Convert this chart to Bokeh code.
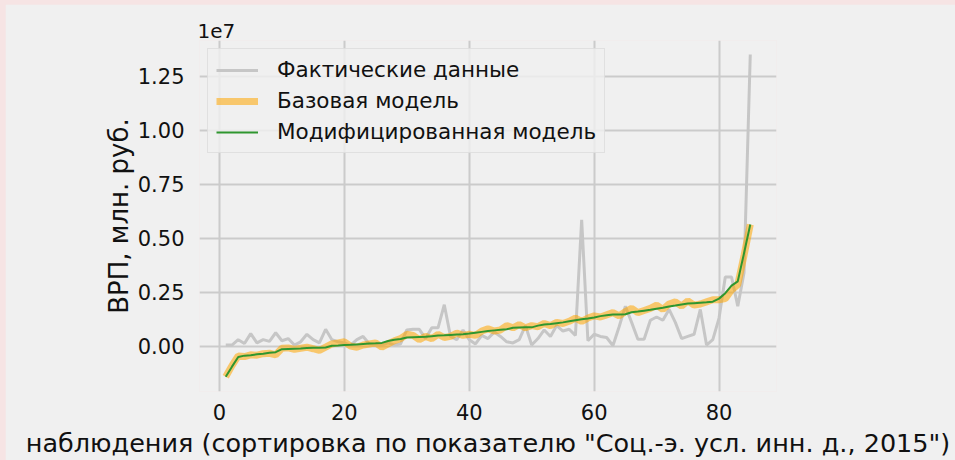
from bokeh.plotting import figure
from bokeh.models import (Range1d, FixedTicker, Legend, LegendItem,
                          ColumnDataSource, GlobalInlineStyleSheet)
from bokeh.embed import file_html
from bokeh.resources import INLINE

# ---- data (values in roubles, in millions below) ----
obs = list(range(1, 86))

actual_mln = [0.05, 0.05, 0.30, 0.12, 0.58, 0.15, 0.30, 0.22, 0.62, 0.25,
              0.35, 0.05, 0.20, 0.55, 0.30, 0.15, 0.78, 0.30, 0.20, 0.15,
              0.05, 0.30, 0.45, 0.10, 0.05, 0.05, 0.15, 0.05, 0.10, 0.75,
              0.78, 0.78, 0.35, 0.85, 0.85, 1.92, 0.45, 0.30, 0.75, 0.30,
              0.10, 0.50, 0.35, 0.65, 0.45, 0.20, 0.15, 0.30, 0.95, 0.05,
              0.35, 0.75, 0.45, 0.95, 0.70, 0.78, 0.50, 5.85, 0.25, 0.55,
              0.45, 0.40, 0.02, 0.90, 1.85, 1.10, 0.32, 0.32, 1.20, 1.35,
              1.20, 1.70, 1.10, 0.35, 0.45, 0.55, 1.70, 0.05, 0.30, 1.30,
              3.20, 3.20, 1.85, 3.40, 13.50]

base_mln = [-1.42, -0.90, -0.45, -0.48, -0.40, -0.42, -0.35, -0.33, -0.40, -0.10,
            -0.08, -0.15, -0.10, -0.05, -0.12, -0.20, -0.05, 0.10, 0.15, 0.20,
            0.00, -0.05, 0.05, 0.10, 0.15, -0.05, 0.10, 0.25, 0.35, 0.55,
            0.50, 0.30, 0.45, 0.35, 0.55, 0.40, 0.45, 0.60, 0.50, 0.55,
            0.50, 0.70, 0.80, 0.70, 0.75, 0.95, 0.85, 1.00, 0.85, 0.95,
            0.90, 1.05, 0.95, 1.10, 1.05, 1.15, 1.30, 1.15, 1.30, 1.40,
            1.35, 1.45, 1.55, 1.40, 1.60, 1.75, 1.55, 1.65, 1.75, 1.90,
            1.70, 1.95, 2.05, 1.85, 2.10, 1.90, 1.95, 2.05, 2.15, 2.15,
            2.20, 2.60, 2.85, 4.20, 5.63]

modified_mln = [-1.42, -0.95, -0.50, -0.44, -0.42, -0.38, -0.35, -0.31, -0.28, -0.14,
                -0.13, -0.12, -0.11, -0.09, -0.08, -0.07, -0.06, 0.02, 0.03, 0.05,
                0.06, 0.08, 0.10, 0.12, 0.13, 0.15, 0.24, 0.30, 0.33, 0.40,
                0.41, 0.42, 0.43, 0.46, 0.49, 0.50, 0.52, 0.54, 0.55, 0.58,
                0.62, 0.66, 0.70, 0.73, 0.76, 0.78, 0.85, 0.86, 0.87, 0.87,
                0.95, 1.00, 1.02, 1.06, 1.10, 1.15, 1.20, 1.24, 1.28, 1.33,
                1.39, 1.43, 1.46, 1.47, 1.48, 1.57, 1.60, 1.64, 1.68, 1.73,
                1.78, 1.84, 1.88, 1.93, 1.97, 1.99, 2.01, 2.03, 2.06, 2.20,
                2.45, 2.80, 3.00, 4.30, 5.63]

y_ticks = [0, 2.5e6, 5e6, 7.5e6, 1e7, 1.25e7]
y_tick_labels = ["0.00", "0.25", "0.50", "0.75", "1.00", "1.25"]
x_ticks = [0, 20, 40, 60, 80]

series_names = ["Фактические данные", "Базовая модель", "Модифицированная модель"]
x_title = 'наблюдения (сортировка по показателю "Соц.-э. усл. инн. д., 2015")'
y_title = "ВРП, млн. руб."
offset_text = "1e7"

src = ColumnDataSource(dict(
    x=obs,
    actual=[v * 1e6 for v in actual_mln],
    base=[v * 1e6 for v in base_mln],
    modified=[v * 1e6 for v in modified_mln],
))

BG = "#f0f0f0"
FONT = "DejaVu Sans"
TXT = "#111111"

p = figure(width=950, height=456, output_backend="svg", toolbar_location=None,
           x_range=Range1d(-3.2, 89.2), y_range=Range1d(-2.1e6, 14.15e6),
           min_border_left=194, min_border_right=179,
           min_border_top=36, min_border_bottom=65,
           background_fill_color=BG, border_fill_color=BG)
p.outline_line_color = None

# "1e7" offset text, drawn as the title at the top-left of the frame
p.title.text = offset_text
p.title.align = "left"
p.title.offset = -2
p.title.standoff = 5
p.title.text_font = FONT
p.title.text_font_size = "20px"
p.title.text_font_style = "normal"
p.title.text_color = TXT

r1 = p.line("x", "actual", source=src, line_color="#c6c6c6", line_width=3)
r2 = p.line("x", "base", source=src, line_color="#ffa500", line_alpha=0.55, line_width=7)
r3 = p.line("x", "modified", source=src, line_color="#2f962f", line_width=2)

# axes
p.xaxis.ticker = FixedTicker(ticks=x_ticks)
p.yaxis.ticker = FixedTicker(ticks=y_ticks)
p.yaxis.major_label_overrides = {t: l for t, l in zip(y_ticks, y_tick_labels)}
for ax in (p.xaxis[0], p.yaxis[0]):
    ax.axis_line_color = None
    ax.major_tick_line_color = None
    ax.minor_tick_line_color = None
    ax.major_label_text_font = FONT
    ax.major_label_text_font_size = "21px"
    ax.major_label_text_color = TXT
    ax.axis_label_text_font = FONT
    ax.axis_label_text_font_style = "normal"
    ax.axis_label_text_color = TXT
p.xaxis.axis_label = x_title
p.yaxis.axis_label = y_title
p.xaxis.axis_label_text_font_size = "25.5px"
p.yaxis.axis_label_text_font_size = "26px"
p.xaxis.major_label_standoff = 6
p.yaxis.major_label_standoff = 9
p.xaxis.axis_label_standoff = 5
p.yaxis.axis_label_standoff = 1

p.xgrid.grid_line_color = "#cbcbcb"
p.ygrid.grid_line_color = "#cbcbcb"
p.xgrid.grid_line_width = 2
p.ygrid.grid_line_width = 2

legend = Legend(items=[LegendItem(label=series_names[0], renderers=[r1]),
                       LegendItem(label=series_names[1], renderers=[r2]),
                       LegendItem(label=series_names[2], renderers=[r3])],
                location="top_left", margin=8, padding=8,
                glyph_width=42, glyph_height=24, label_height=24, spacing=6,
                label_standoff=19,
                label_text_font=FONT, label_text_font_size="21.5px",
                label_text_color=TXT,
                background_fill_color=BG, background_fill_alpha=0.8,
                border_line_color="#d0d0d0", border_line_width=1)
p.add_layout(legend)

p.stylesheets = [GlobalInlineStyleSheet(
    css="html, body {background:#f6e4e4 !important;} "
        "body {padding:4px 0 0 5px !important; margin:0 !important; box-sizing:border-box;}")]

open("out.html", "w").write(file_html(p, INLINE))
